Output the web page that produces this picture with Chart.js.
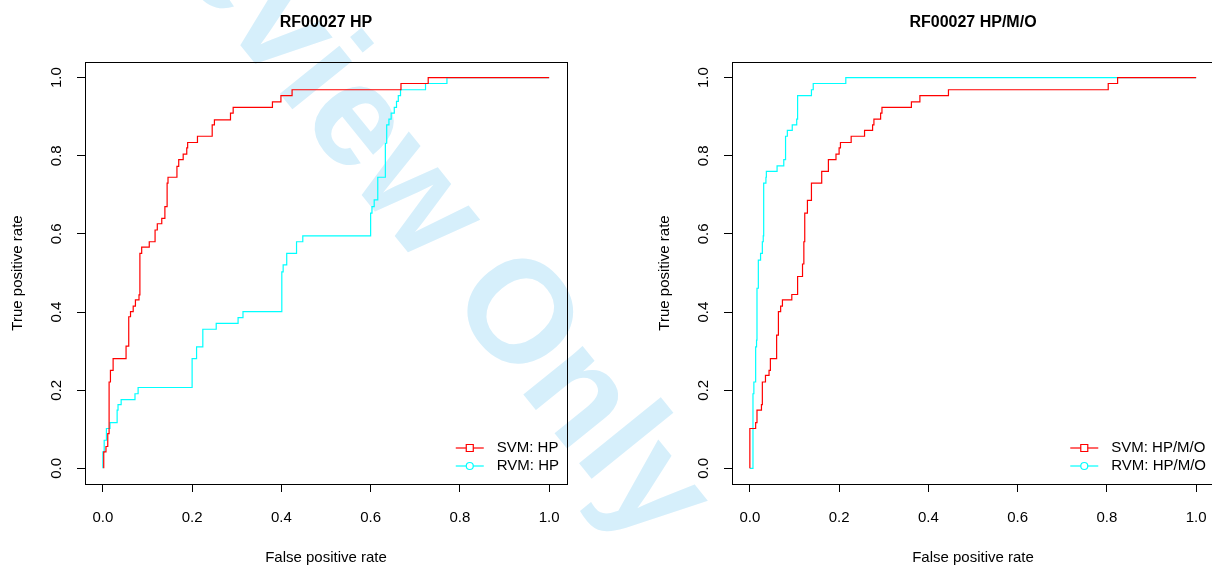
<!DOCTYPE html>
<html>
<head>
<meta charset="utf-8">
<title>RF00027 ROC</title>
<script src="https://cdn.jsdelivr.net/npm/chart.js@4.4.1/dist/chart.umd.min.js"></script>
<style>
  html, body { margin: 0; padding: 0; background: #fff; overflow: hidden; }
  #wrap { position: relative; width: 1212px; height: 565px; overflow: hidden; }
  canvas { position: absolute; top: 0; }
</style>
</head>
<body>
<div id="wrap">
  <canvas id="mark" width="1212" height="565" style="left:0"></canvas>
  <canvas id="rocHP" width="606" height="565" style="left:0"></canvas>
  <canvas id="rocHPMO" width="606" height="565" style="left:647px"></canvas>
</div>
<script>
// tick positions / labels (both axes)
const tickValues = [0, 0.2, 0.4, 0.6, 0.8, 1.0];
const tickLabels = ['0.0', '0.2', '0.4', '0.6', '0.8', '1.0'];

// left panel: HP
const svmHpFpr = [0.002, 0.002, 0.007, 0.011, 0.014, 0.017, 0.023, 0.052, 0.058, 0.062, 0.068, 0.073, 0.081, 0.083, 0.087, 0.104, 0.117, 0.122, 0.132, 0.139, 0.144, 0.146, 0.166, 0.170, 0.180, 0.188, 0.190, 0.212, 0.245, 0.250, 0.286, 0.292, 0.380, 0.399, 0.424, 0.668, 0.729, 1.0];
const svmHpTpr = [0, 0.042, 0.056, 0.089, 0.221, 0.251, 0.281, 0.313, 0.388, 0.401, 0.415, 0.431, 0.444, 0.550, 0.566, 0.580, 0.610, 0.626, 0.640, 0.670, 0.730, 0.745, 0.773, 0.790, 0.804, 0.820, 0.834, 0.850, 0.879, 0.892, 0.909, 0.924, 0.938, 0.954, 0.969, 0.985, 1.0, 1.0];
const rvmHpFpr = [0, 0, 0.003, 0.008, 0.016, 0.032, 0.034, 0.041, 0.072, 0.079, 0.200, 0.210, 0.224, 0.254, 0.303, 0.314, 0.401, 0.404, 0.412, 0.434, 0.448, 0.600, 0.603, 0.608, 0.616, 0.633, 0.636, 0.641, 0.646, 0.653, 0.658, 0.662, 0.667, 0.723, 0.771, 1.0];
const rvmHpTpr = [0, 0.042, 0.072, 0.102, 0.117, 0.149, 0.163, 0.176, 0.191, 0.207, 0.281, 0.311, 0.356, 0.371, 0.386, 0.401, 0.503, 0.521, 0.550, 0.580, 0.595, 0.653, 0.670, 0.687, 0.745, 0.832, 0.879, 0.894, 0.909, 0.924, 0.939, 0.954, 0.969, 0.985, 1.0, 1.0];

// right panel: HP/M/O
const svmHpmoFpr = [0, 0, 0.013, 0.016, 0.026, 0.028, 0.035, 0.043, 0.046, 0.060, 0.064, 0.069, 0.073, 0.094, 0.107, 0.118, 0.121, 0.123, 0.129, 0.138, 0.161, 0.176, 0.193, 0.200, 0.203, 0.227, 0.257, 0.275, 0.278, 0.293, 0.296, 0.362, 0.381, 0.445, 0.803, 0.824, 1.0];
const svmHpmoTpr = [0, 0.102, 0.117, 0.149, 0.163, 0.221, 0.238, 0.251, 0.281, 0.341, 0.401, 0.415, 0.431, 0.445, 0.491, 0.523, 0.580, 0.653, 0.686, 0.730, 0.760, 0.790, 0.804, 0.820, 0.834, 0.850, 0.865, 0.879, 0.894, 0.909, 0.924, 0.938, 0.954, 0.969, 0.985, 1.0, 1.0];
const rvmHpmoFpr = [0, 0.007, 0.009, 0.013, 0.015, 0.016, 0.019, 0.024, 0.028, 0.030, 0.031, 0.036, 0.037, 0.061, 0.076, 0.080, 0.084, 0.095, 0.105, 0.107, 0.138, 0.142, 0.215, 1.0];
const rvmHpmoTpr = [0, 0.191, 0.221, 0.311, 0.328, 0.461, 0.533, 0.550, 0.580, 0.595, 0.730, 0.745, 0.760, 0.774, 0.790, 0.850, 0.865, 0.879, 0.894, 0.954, 0.969, 0.985, 1.0, 1.0];

const fontFamily = '"Liberation Sans", Arial, Helvetica, sans-serif';
Chart.defaults.font.family = fontFamily;
Chart.defaults.font.size = 15;
Chart.defaults.color = '#000';

// watermark behind the plots
(function () {
  const mk = document.getElementById('mark').getContext('2d');
  const size = 145;
  mk.fillStyle = 'rgb(214, 239, 251)';
  mk.font = 'bold ' + size + 'px ' + fontFamily;
  const pre = mk.measureText('Preview ').width;
  const oW = mk.measureText('O').width;
  mk.translate(522, 310);
  mk.rotate(51 * Math.PI / 180);
  mk.fillText('Preview Only', -(pre + oW / 2), size * 0.36);
})();

function toPoints(xs, ys) {
  return xs.map((x, i) => ({ x: x, y: ys[i] }));
}

// box around the plot region, like R's bty="o"
const plotBox = {
  id: 'plotBox',
  afterDraw(chart) {
    const a = chart.chartArea, ctx = chart.ctx;
    ctx.save();
    ctx.strokeStyle = '#000';
    ctx.lineWidth = 1;
    ctx.strokeRect(a.left + 0.5, a.top + 0.5, a.right - a.left, a.bottom - a.top);
    ctx.restore();
  }
};

// bottom-right legend: line + open marker + label
const rocLegend = {
  id: 'rocLegend',
  afterDraw(chart) {
    const ctx = chart.ctx, a = chart.chartArea;
    const sets = chart.data.datasets;
    ctx.save();
    ctx.font = '15px ' + fontFamily;
    const w = Math.max(...sets.map(d => ctx.measureText(d.label).width));
    const tx = a.right - w - 8;
    const lx = tx - 41;
    sets.forEach((d, i) => {
      const y = a.bottom - 36 + i * 18;
      ctx.strokeStyle = d.borderColor;
      ctx.lineWidth = 1.2;
      ctx.beginPath();
      ctx.moveTo(lx, y);
      ctx.lineTo(lx + 28, y);
      ctx.stroke();
      ctx.fillStyle = '#fff';
      ctx.beginPath();
      if (d.pointStyle === 'rect') {
        ctx.rect(lx + 14 - 3.5, y - 3.5, 7, 7);
      } else {
        ctx.arc(lx + 14, y, 3.5, 0, Math.PI * 2);
      }
      ctx.fill();
      ctx.stroke();
      ctx.fillStyle = '#000';
      ctx.textBaseline = 'middle';
      ctx.textAlign = 'left';
      ctx.fillText(d.label, tx, y);
    });
    ctx.restore();
  }
};

function setTicks(scale) {
  scale.ticks = tickValues.map(v => ({ value: v }));
}

function makeRoc(id, title, tag, svmX, svmY, rvmX, rvmY) {
  return new Chart(document.getElementById(id), {
    type: 'line',
    data: {
      datasets: [
        { label: 'SVM: ' + tag, data: toPoints(svmX, svmY), borderColor: '#ff0000', borderWidth: 1.2,
          pointRadius: 0, stepped: 'before', fill: false, pointStyle: 'rect' },
        { label: 'RVM: ' + tag, data: toPoints(rvmX, rvmY), borderColor: '#00ffff', borderWidth: 1.2,
          pointRadius: 0, stepped: 'before', fill: false, pointStyle: 'circle' }
      ]
    },
    options: {
      responsive: false,
      animation: false,
      devicePixelRatio: 1,
      layout: { padding: { left: 0, right: 39, top: 0, bottom: 0 } },
      plugins: {
        legend: { display: false },
        tooltip: { enabled: false },
        title: {
          display: true, text: title, fullSize: false,
          font: { size: 16, weight: 'bold' },
          padding: { top: 13, bottom: 29.8 }
        }
      },
      scales: {
        x: {
          type: 'linear', min: -0.04, max: 1.04,
          afterBuildTicks: setTicks,
          afterFit: s => { s.height = 81; },
          grid: { drawOnChartArea: false, drawTicks: true, tickLength: 8, color: '#000' },
          border: { display: false },
          ticks: { padding: 17, autoSkip: false, maxRotation: 0, callback: (v, i) => tickLabels[i] },
          title: { display: true, text: 'False positive rate', padding: { top: 0, bottom: -2 } }
        },
        y: {
          type: 'linear', min: -0.04, max: 1.04,
          afterBuildTicks: setTicks,
          afterFit: s => { s.width = 85; },
          grid: { drawOnChartArea: false, drawTicks: true, tickLength: 8, color: '#000' },
          border: { display: false },
          ticks: { padding: 10, autoSkip: false, minRotation: 90, maxRotation: 90, crossAlign: 'center',
                   callback: (v, i) => tickLabels[i] },
          title: { display: true, text: 'True positive rate', padding: { top: 9, bottom: 0 } }
        }
      }
    },
    plugins: [plotBox, rocLegend]
  });
}

makeRoc('rocHP', 'RF00027 HP', 'HP', svmHpFpr, svmHpTpr, rvmHpFpr, rvmHpTpr);
makeRoc('rocHPMO', 'RF00027 HP/M/O', 'HP/M/O', svmHpmoFpr, svmHpmoTpr, rvmHpmoFpr, rvmHpmoTpr);
</script>
</body>
</html>
